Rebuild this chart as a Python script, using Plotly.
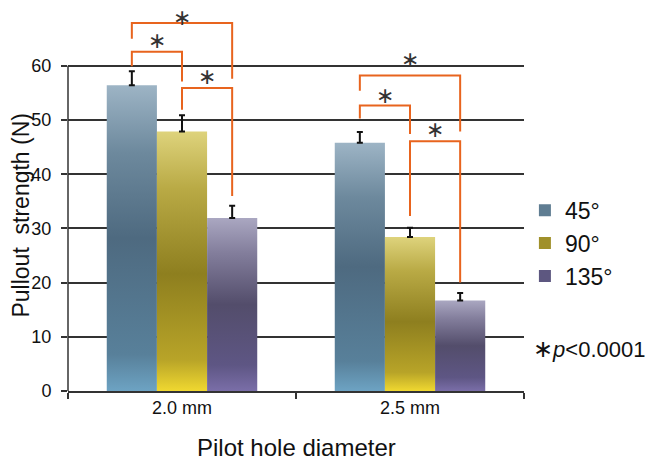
import plotly.graph_objs as go

# data
diameters = ["2.0 mm", "2.5 mm"]
angles = ["45°", "90°", "135°"]
strength = {
    "45°": [56.4, 45.8],
    "90°": [47.9, 28.4],
    "135°": [31.9, 16.7],
}
sd = {
    "45°": [2.6, 2.0],
    "90°": [3.0, 1.7],
    "135°": [2.3, 1.4],
}
# significance brackets: (group, from bar, to bar, left leg bottom, top, right leg bottom, star height)
brackets = [
    (0, 0, 1, 59.9, 62.6, 57.1, 64.8),
    (0, 1, 2, 51.9, 55.9, 36.0, 58.1),
    (0, 0, 2, 65.0, 67.9, 57.6, 69.1),
    (1, 0, 1, 50.3, 52.7, 47.4, 54.6),
    (1, 1, 2, 32.3, 46.1, 20.0, 48.4),
    (1, 0, 2, 55.4, 58.2, 47.9, 61.3),
]

scales = {
    "45°": [[0, "#6DA3C3"], [0.12, "#58809A"], [0.5, "#4E6A80"], [0.78, "#6D899D"], [1, "#9DB4C5"]],
    "90°": [[0, "#F0D830"], [0.12, "#B8A428"], [0.45, "#8E7F1F"], [0.78, "#B9AA45"], [1, "#DED37C"]],
    "135°": [[0, "#7A6EA8"], [0.15, "#5E5684"], [0.5, "#534D6B"], [0.8, "#837E9C"], [1, "#AAA7C1"]],
}
swatch = {"45°": "#5F7D92", "90°": "#A0902A", "135°": "#5D5780"}

bw = 0.22
offs = [-bw, 0, bw]
font = "Arial, 'Liberation Sans', sans-serif"
orange = "#E8641E"
dark = "#333"

fig = go.Figure()

for k, a in enumerate(angles):
    for g in range(len(diameters)):
        c = g + offs[k]
        v = strength[a][g]
        fig.add_trace(go.Scatter(
            x=[c - bw / 2, c + bw / 2, c + bw / 2, c - bw / 2, c - bw / 2],
            y=[0, 0, v, v, 0],
            mode="lines", fill="toself", line=dict(width=0),
            fillgradient=dict(type="vertical", colorscale=scales[a], start=0, stop=v),
            showlegend=False, hoverinfo="skip",
        ))
    # error bars (upper only)
    fig.add_trace(go.Scatter(
        x=[g + offs[k] for g in range(len(diameters))],
        y=strength[a],
        mode="markers", marker=dict(size=1, color="rgba(0,0,0,0)"),
        error_y=dict(type="data", symmetric=False, array=sd[a],
                     arrayminus=[0] * len(diameters), color="#111",
                     thickness=2, width=3),
        showlegend=False,
    ))
    # legend entry
    fig.add_trace(go.Scatter(
        x=[None], y=[None], mode="markers", name=a,
        marker=dict(symbol="square", size=12, color=swatch[a]),
    ))

for g, i, j, yl, yt, yr, ys in brackets:
    x0 = g + offs[i]
    x1 = g + offs[j]
    fig.add_shape(type="path", xref="x", yref="y",
                  path=f"M {x0} {yl} L {x0} {yt} L {x1} {yt} L {x1} {yr}",
                  line=dict(color=orange, width=2))
    fig.add_annotation(x=(x0 + x1) / 2, y=ys, text="∗", height=16,
                       showarrow=False, yanchor="middle",
                       font=dict(family="DejaVu Sans", size=22, color="#333"))

# left axis line only up to 60
fig.add_shape(type="line", xref="paper", yref="y", x0=0, x1=0, y0=0, y1=60,
              line=dict(color=dark, width=1.5))

fig.add_annotation(xref="paper", yref="paper", x=1.016, y=0.11,
                   xanchor="left", yanchor="middle", showarrow=False,
                   text="<span style='font-family:DejaVu Sans;font-size:24px'>∗</span><i>p</i><0.0001",
                   font=dict(family=font, size=22, color="#111"))

# axis titles
fig.add_annotation(xref="paper", yref="paper", x=0.5, y=-0.147,
                   xanchor="center", yanchor="middle", showarrow=False,
                   text="Pilot hole diameter", font=dict(family=font, size=24, color="#111"))
fig.add_annotation(xref="paper", yref="paper", x=-0.104, y=0.462,
                   xanchor="center", yanchor="middle", showarrow=False, textangle=-90,
                   text="Pullout  strength (N)", font=dict(family=font, size=23, color="#111"))

# the page puts the figure 8px in from the top-left corner
fig.update_layout(
    width=645, height=454,
    margin=dict(l=60, r=129, t=2, b=71),
    paper_bgcolor="white", plot_bgcolor="white",
    font=dict(family=font, color="#111"),
    legend=dict(x=1.002, y=0.531, xanchor="left", yanchor="top",
                font=dict(size=23), itemwidth=30,
                bgcolor="rgba(0,0,0,0)"),
    xaxis=dict(range=[-0.5, 1.5], tickvals=[0, 1], ticktext=diameters,
               ticks="", tickfont=dict(size=18), showgrid=False, zeroline=False,
               showline=True, linecolor=dark, linewidth=1.5, automargin=False,
               minor=dict(tickvals=[-0.5, 0.5, 1.5], ticks="outside", ticklen=6,
                          tickcolor=dark, tickwidth=1.5, showgrid=False)),
    yaxis=dict(range=[0, 70.3], tickvals=[0, 10, 20, 30, 40, 50, 60],
               ticks="outside", ticklen=6, tickcolor=dark, tickwidth=1.5,
               tickfont=dict(size=18), ticklabelstandoff=6, automargin=False,
               showgrid=True, gridcolor=dark, gridwidth=1.5,
               zeroline=False, showline=False),
)

fig.write_html("out.html")
